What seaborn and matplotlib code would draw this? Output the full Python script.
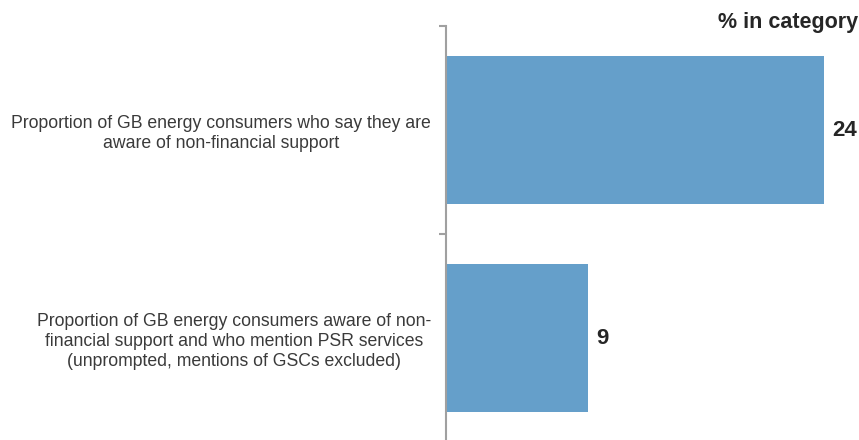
import matplotlib
matplotlib.use("Agg")
import matplotlib.pyplot as plt
import matplotlib.transforms as mtransforms
import seaborn as sns
import pandas as pd

categories = [
    "Proportion of GB energy consumers who say they are\naware of non-financial support",
    "Proportion of GB energy consumers aware of non-\nfinancial support and who mention PSR services\n(unprompted, mentions of GSCs excluded)",
]
values = [24, 9]
axis_title = "% in category"

sns.set_theme(style="white")
plt.rcParams["font.family"] = ["Liberation Sans", "DejaVu Sans"]

df = pd.DataFrame({"label": categories, "value": values})

fig = plt.figure(figsize=(8.59, 4.40), dpi=100)
ax = fig.add_axes([446 / 859, -2 / 440, 409.5 / 859, 416 / 440])

sns.barplot(data=df, x="value", y="label", orient="h", color="#659fca",
            saturation=1, width=0.716, linewidth=0, ax=ax)

ax.set_xlim(0, 26)
ax.set_ylim(1.5, -0.5)
ax.set_xlabel("")
ax.set_ylabel("")
ax.set_xticks([])

ax.set_yticks(range(len(categories)))
ax.set_yticklabels(categories, ha="center", multialignment="center",
                   fontsize=12.7, color="#3a3a3a", linespacing=1.25)
ax.tick_params(axis="y", which="major", length=0, pad=14)

# shift the centred category labels so their right edges sit left of the axis
fig.canvas.draw()
renderer = fig.canvas.get_renderer()
for lbl in ax.get_yticklabels():
    bb = lbl.get_window_extent(renderer)
    shift = 431 - bb.x1
    lbl.set_transform(lbl.get_transform() + mtransforms.Affine2D().translate(shift, 0))

ax.set_yticks([-0.5, 0.5, 1.5], minor=True)
ax.tick_params(axis="y", which="minor", length=5, width=1.5, color="#a0a0a0", left=True)

for side in ["top", "right", "bottom"]:
    ax.spines[side].set_visible(False)
ax.spines["left"].set_color("#a0a0a0")
ax.spines["left"].set_linewidth(1.5)

for i, v in enumerate(values):
    ax.annotate(f"{v}", xy=(v, i), xytext=(6, 0), textcoords="offset points",
                ha="left", va="center", fontsize=16, fontweight="bold",
                color="#262626")

fig.text(858 / 859, 1 - 28 / 440, axis_title, ha="right", va="baseline",
         fontsize=15.5, fontweight="bold", color="#262626")

fig.savefig("out.png", dpi=100)
